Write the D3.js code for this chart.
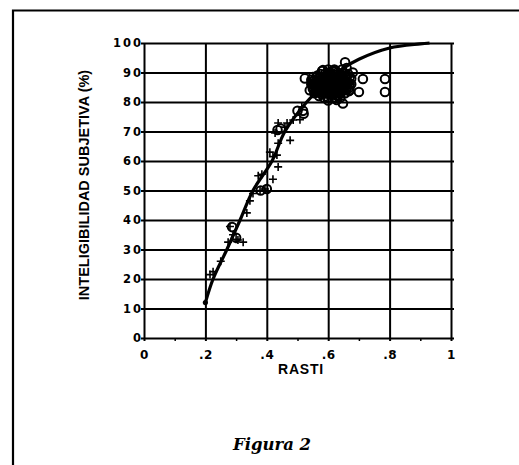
<!DOCTYPE html>
<html lang='es'>

<head>
    <meta charset='UTF-8'>
    <title>Figura 2</title>
    <script src='https://d3js.org/d3.v7.min.js' charset='utf-8'></script>
    <style>
        body {
            margin: 0px;
            background: #fff;
            overflow: hidden;
        }
    </style>
</head>

<body>
    <div id='chart'></div>
    <script>
        'use strict';

        // tick labels
        const xTicks = [0, 0.2, 0.4, 0.6, 0.8, 1];
        const xTickLabels = ['0', '.2', '.4', '.6', '.8', '1'];
        const yTicks = [0, 10, 20, 30, 40, 50, 60, 70, 80, 90, 100];

        // fitted curve
        const curveRasti = [0.2, 0.225, 0.27, 0.313, 0.355, 0.417, 0.459, 0.53, 0.6, 0.65, 0.7, 0.8, 0.9, 0.93];
        const curveIntel = [12, 20, 30, 40, 50, 60, 70, 80, 87.5, 91.5, 94.5, 98.3, 99.7, 100];

        // crosses (+)
        const crossRasti = [0.215, 0.225, 0.25, 0.274, 0.28, 0.29, 0.3, 0.306, 0.323, 0.335, 0.345, 0.355, 0.372,
            0.384, 0.378, 0.394, 0.41, 0.42, 0.42, 0.433, 0.437, 0.437, 0.427, 0.437, 0.466, 0.476, 0.459, 0.486,
            0.508, 0.514];
        const crossIntel = [21.5, 22.5, 26, 32.5, 37.8, 35, 33.5, 33.2, 32.5, 42.4, 46.5, 49, 55,
            55.5, 50, 50.5, 63, 61.5, 53.8, 62, 58, 66, 69.5, 72.9, 72.9, 67, 71.5, 73.9,
            74, 78.3];

        // open circles (the dense cluster first, then the scattered ones)
        const circleRasti = [0.54, 0.545, 0.55, 0.555, 0.56, 0.56, 0.565, 0.57, 0.57, 0.575, 0.58, 0.58, 0.585,
            0.59, 0.59, 0.595, 0.6, 0.6, 0.6, 0.605, 0.605, 0.61, 0.61, 0.615, 0.615, 0.62, 0.62, 0.625, 0.625,
            0.63, 0.63, 0.635, 0.635, 0.64, 0.64, 0.645, 0.645, 0.65, 0.65, 0.655, 0.66, 0.66, 0.665, 0.67, 0.67,
            0.675, 0.58, 0.59, 0.62, 0.63, 0.6, 0.57, 0.55, 0.565, 0.61, 0.64, 0.655, 0.62, 0.66, 0.68,
            0.555, 0.565, 0.575, 0.575, 0.585, 0.585, 0.595, 0.595, 0.605, 0.605, 0.605, 0.615, 0.615, 0.625,
            0.625, 0.625, 0.635, 0.635, 0.645, 0.645, 0.645, 0.655, 0.655, 0.665, 0.665, 0.66, 0.675, 0.6,
            0.59, 0.57, 0.56, 0.63, 0.615, 0.64, 0.67, 0.55, 0.545, 0.6, 0.585, 0.64,
            0.55, 0.56, 0.57, 0.58, 0.59, 0.6, 0.61, 0.62, 0.63, 0.64, 0.65, 0.66,
            0.552, 0.562, 0.572, 0.582, 0.592, 0.602, 0.612, 0.622, 0.632, 0.642, 0.652, 0.662,
            0.558, 0.568, 0.578, 0.588, 0.598, 0.608, 0.618, 0.628, 0.638, 0.648, 0.658, 0.668,
            0.524, 0.583, 0.655, 0.713, 0.785, 0.785, 0.70, 0.648, 0.628, 0.6, 0.518, 0.52, 0.5,
            0.38, 0.4, 0.435, 0.445, 0.287, 0.3];
        const circleIntel = [84, 86, 88.5, 83, 85, 87, 89, 82, 84.5, 86.5, 88, 90.5, 83,
            85, 87, 89, 81.5, 84, 86, 88, 90, 82.5, 85, 87, 89, 83.5, 86, 88, 90.5,
            82, 84.5, 86.5, 89, 83, 85, 87, 91, 84, 86, 88.5, 85, 87, 89.5, 86, 84,
            88, 86, 83, 91, 87.5, 89.5, 88, 86, 84, 83.5, 89, 83, 81.5, 91.5, 90,
            87.5, 86, 84, 89.5, 85.5, 88.5, 84.5, 86.5, 83, 85.5, 87, 84, 86, 83,
            85, 87, 84, 88, 84, 86, 89, 85.5, 87, 86.5, 84.5, 89, 86, 88,
            89.5, 86, 83.5, 90, 90.5, 87.5, 88.5, 84.5, 87.5, 91, 81.5, 81.5,
            85.2, 84.2, 87.2, 85.2, 83.7, 87.2, 88.2, 84.7, 85.7, 86.2, 85.2, 88.2,
            87, 88.5, 85.5, 87.2, 88.2, 82.7, 86.7, 89.2, 88.7, 83.7, 89.7, 86.2,
            85.7, 83.2, 82.7, 83.7, 85.7, 89.2, 82.7, 82.2, 83.2, 88.2, 84.2, 83.7,
            88, 90.8, 93.5, 87.8, 87.8, 83.4, 83.4, 79.5, 80.7, 80.5, 77, 76, 77,
            50, 50.5, 70.5, 71, 37.6, 34];

        const W = 519, H = 465;
        const margin = { top: 43, right: 68, bottom: 127, left: 144 },
            width = W - margin.left - margin.right,
            height = H - margin.top - margin.bottom;

        const labelFont = "'DejaVu Sans', 'Liberation Sans', sans-serif";

        const root = d3.select('#chart')
            .append('svg')
            .attr('width', W)
            .attr('height', H);

        // page frame (top and left edges only)
        root.append('path')
            .attr('d', `M13,${H} V10.5 H${W}`)
            .attr('fill', 'none')
            .attr('stroke', 'black')
            .attr('stroke-width', 2.2);

        const svg = root.append('g')
            .attr('transform', `translate(${margin.left}, ${margin.top})`);

        const x = d3.scaleLinear().domain([0, 1]).range([0, width]);
        const y = d3.scaleLinear().domain([0, 100]).range([height, 0]);

        // minor ticks on x axis
        svg.append('g')
            .attr('transform', `translate(0, ${height})`)
            .call(d3.axisBottom(x).tickValues(d3.range(1, 10, 2).map(d => d / 10)).tickSize(3).tickFormat(''))
            .call(g => g.select('.domain').remove())
            .call(g => g.selectAll('line').attr('stroke-width', 1.5));

        // vertical grid + x labels
        svg.append('g')
            .attr('transform', `translate(0, ${height})`)
            .call(d3.axisBottom(x).tickValues(xTicks).tickSizeInner(-height).tickSizeOuter(0)
                .tickPadding(12).tickFormat((d, i) => xTickLabels[i]))
            .call(g => g.select('.domain').remove())
            .call(g => g.selectAll('line').attr('y1', 3).attr('stroke-width', 2))
            .call(g => g.selectAll('text')
                .attr('font-family', labelFont)
                .attr('font-weight', 'bold')
                .attr('font-size', 12)
                .attr('letter-spacing', 0.5));

        // horizontal grid + y labels
        svg.append('g')
            .call(d3.axisLeft(y).tickValues(yTicks).tickSizeInner(-width).tickSizeOuter(0).tickPadding(1))
            .call(g => g.select('.domain').remove())
            .call(g => g.selectAll('line').attr('x1', -3).attr('x2', width + 3).attr('stroke-width', 2))
            .call(g => g.selectAll('text')
                .attr('font-family', labelFont)
                .attr('font-weight', 'bold')
                .attr('font-size', 11.5)
                .attr('letter-spacing', 2));

        // fitted curve
        const curveData = curveRasti.map((d, i) => [d, curveIntel[i]]);
        svg.append('path')
            .datum(curveData)
            .attr('fill', 'none')
            .attr('stroke', 'black')
            .attr('stroke-width', 3.2)
            .attr('d', d3.line().x(d => x(d[0])).y(d => y(d[1])).curve(d3.curveCatmullRom));
        svg.append('circle')
            .attr('cx', x(curveRasti[0]))
            .attr('cy', y(curveIntel[0]))
            .attr('r', 2.6);

        // circles
        svg.append('g')
            .selectAll('circle')
            .data(circleRasti.map((d, i) => [d, circleIntel[i]]))
            .enter()
            .append('circle')
            .attr('cx', d => x(d[0]))
            .attr('cy', d => y(d[1]))
            .attr('r', 4.3)
            .attr('fill', 'none')
            .attr('stroke', 'black')
            .attr('stroke-width', 2);

        // crosses
        svg.append('g')
            .selectAll('path')
            .data(crossRasti.map((d, i) => [d, crossIntel[i]]))
            .enter()
            .append('path')
            .attr('transform', d => `translate(${x(d[0])}, ${y(d[1])})`)
            .attr('d', 'M-4,0H4M0,-4V4')
            .attr('stroke', 'black')
            .attr('stroke-width', 1.6);

        // axis titles
        root.append('text')
            .attr('x', 301)
            .attr('y', 374)
            .attr('text-anchor', 'middle')
            .attr('font-family', "'Liberation Sans', Arial, sans-serif")
            .attr('font-weight', 'bold')
            .attr('font-size', 14)
            .attr('letter-spacing', 0.8)
            .text('RASTI');

        root.append('text')
            .attr('transform', 'translate(89, 185) rotate(-90)')
            .attr('text-anchor', 'middle')
            .attr('font-family', "'Liberation Sans', Arial, sans-serif")
            .attr('font-weight', 'bold')
            .attr('font-size', 14.5)
            .text('INTELIGIBILIDAD SUBJETIVA (%)');

        root.append('text')
            .attr('x', 272)
            .attr('y', 450)
            .attr('text-anchor', 'middle')
            .attr('font-family', "'DejaVu Serif', serif")
            .attr('font-weight', 'bold')
            .attr('font-style', 'italic')
            .attr('font-size', 16.5)
            .text('Figura 2');
    </script>
</body>

</html>
